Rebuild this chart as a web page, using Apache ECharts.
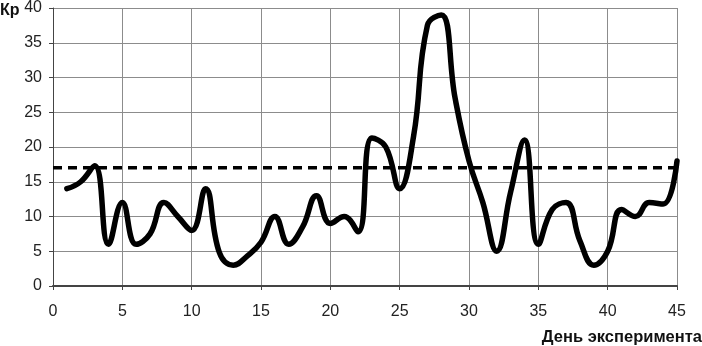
<!DOCTYPE html>
<html>
<head>
<meta charset="utf-8">
<script src="https://cdn.jsdelivr.net/npm/echarts@6/dist/echarts.min.js"></script>
<style>
html,body{margin:0;padding:0;background:#fff;}
#chart{width:702px;height:346px;}
</style>
</head>
<body>
<div id="chart"></div>
<script>
const days = [1,2,3,4,5,6,7,8,9,10,11,12,13,14,15,16,17,18,19,20,21,22,23,24,25,26,27,28,29,30,31,32,33,34,35,36,37,38,39,40,41,42,43,44,45];
const kp = [14,15,17.3,6,12,6,7.5,12,10,8,14,4.8,3,4.3,6.3,10,6,8.5,13,9,10,7.8,21.3,20,14,21.5,37.5,39,27,18,12,5,13.5,21,6,11,12,6.5,3,5,11,10,12,11.8,18];
const thresholdX = [0,45];
const thresholdY = [17,17];
const xTicks = [0,5,10,15,20,25,30,35,40,45];
const yTicks = [0,5,10,15,20,25,30,35,40];
const yName = 'Кр';
const xName = 'День эксперимента';

const chart = echarts.init(document.getElementById('chart'));
const font = 'Liberation Sans, Arial, sans-serif';
chart.setOption({
  animation:false,
  grid:{left:53,right:25,top:7,bottom:60},
  xAxis:{
    type:'value',min:xTicks[0],max:xTicks[xTicks.length-1],interval:5,
    axisLine:{show:true,lineStyle:{color:'#444',width:2}},
    axisTick:{show:true,length:4,lineStyle:{color:'#444'}},
    axisLabel:{color:'#222',fontSize:16,fontFamily:font,margin:18},
    splitLine:{show:true,lineStyle:{color:'#8c8c8c',width:1}}
  },
  yAxis:{
    type:'value',min:yTicks[0],max:yTicks[yTicks.length-1],interval:5,
    axisLine:{show:true,lineStyle:{color:'#444',width:1}},
    axisTick:{show:true,length:4,lineStyle:{color:'#444'}},
    axisLabel:{color:'#222',fontSize:16,fontFamily:font,margin:11},
    splitLine:{show:true,lineStyle:{color:'#8c8c8c',width:1}}
  },
  graphic:[
    {type:'text',left:0,top:3,style:{text:yName,font:'bold 16px '+font,fill:'#111'}},
    {type:'text',right:0,top:329,style:{text:xName,font:'bold 16.5px '+font,fill:'#111'}}
  ],
  series:[
    {
      type:'line',data:thresholdX.map((x,i)=>[x,thresholdY[i]]),
      symbol:'none',lineStyle:{color:'#000',width:3.5,type:[9,6]},z:3
    },
    {
      type:'line',data:days.map((d,i)=>[d,kp[i]]),smooth:0.45,
      symbol:'none',lineStyle:{color:'#000',width:5.5,cap:'round',join:'round'},z:4
    }
  ]
});
</script>
</body>
</html>
